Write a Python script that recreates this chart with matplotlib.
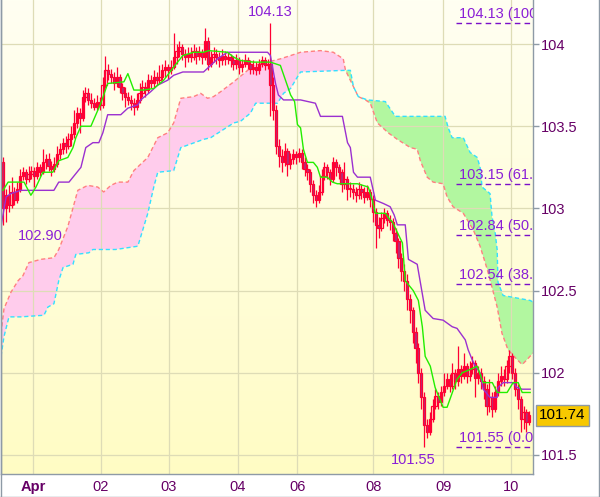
import numpy as np
import matplotlib.pyplot as plt
from matplotlib.patches import Rectangle
from matplotlib.lines import Line2D
import matplotlib.transforms as mtransforms

# hourly candles, open of each bar = previous close
first_open = 103.28
close = [103.00,
         103.08, 103.02, 103.10, 103.05, 103.12,
         103.20, 103.22, 103.18, 103.21, 103.23, 103.20,
         103.25, 103.22, 103.28, 103.30, 103.26, 103.24, 103.27,
         103.33, 103.36, 103.40, 103.38, 103.42,
         103.45, 103.52, 103.58, 103.55,
         103.68, 103.70, 103.66, 103.64, 103.62, 103.65, 103.63,
         103.75, 103.84, 103.82, 103.80,
         103.76, 103.80, 103.74, 103.70, 103.68, 103.66, 103.64, 103.62, 103.66,
         103.70, 103.74, 103.72,
         103.78, 103.76, 103.80, 103.78,
         103.80, 103.84, 103.86, 103.84, 103.86,
         103.92, 103.96, 103.98, 103.94, 103.92,
         103.94, 103.92, 103.96, 103.93, 103.95, 103.92, 104.02,
         103.88,
         103.92, 103.94, 103.92, 103.90, 103.93, 103.91, 103.92,
         103.90, 103.88, 103.90, 103.86, 103.88, 103.90, 103.88,
         103.85, 103.86, 103.84, 103.88, 103.90, 103.87, 103.88,
         103.75, 103.60, 103.38,
         103.32, 103.28, 103.35, 103.27,
         103.30, 103.33, 103.31,
         103.34, 103.28, 103.24, 103.22,
         103.15, 103.08, 103.05, 103.10,
         103.20, 103.25, 103.22, 103.18,
         103.28, 103.25, 103.22,
         103.15, 103.18, 103.12,
         103.12, 103.10, 103.08, 103.12, 103.10, 103.07, 103.10, 103.06,
         102.98, 102.90, 102.88,
         102.94, 102.97, 102.93,
         102.92, 102.85, 102.80, 102.70, 102.62, 102.56,
         102.45, 102.38, 102.25, 102.15,
         102.00, 101.85, 101.68, 101.64,
         101.72, 101.80, 101.86, 101.82, 101.88,
         101.92, 101.96, 101.92, 102.00, 101.95, 102.02, 101.98,
         102.04, 101.98, 102.02, 102.06, 101.97, 102.00, 101.95,
         101.90, 101.80, 101.85, 101.78, 101.88,
         101.95, 101.98, 101.96, 102.04, 102.10, 102.00,
         101.90, 101.84, 101.72, 101.76, 101.70, 101.74]

high = [103.31, 103.12, 103.14, 103.19, 103.13, 103.16, 103.24, 103.25, 103.24, 103.26,
        103.26, 103.25, 103.28, 103.27, 103.36, 103.33, 103.34, 103.29, 103.31, 103.38,
        103.40, 103.43, 103.44, 103.46, 103.50, 103.60, 103.62, 103.61, 103.72, 103.74,
        103.73, 103.70, 103.67, 103.69, 103.68, 103.80, 103.93, 103.88, 103.85, 103.83,
        103.86, 103.82, 103.76, 103.74, 103.71, 103.69, 103.67, 103.70, 103.76, 103.78,
        103.77, 103.82, 103.81, 103.84, 103.83, 103.87, 103.88, 103.90, 103.88, 103.90,
        104.07, 104.00, 104.02, 104.00, 103.97, 103.98, 103.98, 104.00, 103.98, 103.99,
        103.97, 104.10, 104.04, 103.96, 103.98, 103.97, 103.95, 103.97, 103.96, 103.95,
        103.94, 103.93, 103.94, 103.92, 103.91, 103.94, 103.92, 103.90, 103.90, 103.89,
        103.91, 103.93, 103.92, 103.91, 104.13, 103.80, 103.63, 103.42, 103.36, 103.40,
        103.37, 103.34, 103.36, 103.35, 103.37, 103.36, 103.31, 103.27, 103.24, 103.17,
        103.11, 103.14, 103.24, 103.28, 103.27, 103.24, 103.31, 103.30, 103.27, 103.24,
        103.28, 103.20, 103.16, 103.15, 103.13, 103.16, 103.15, 103.13, 103.14, 103.12,
        103.08, 103.00, 102.95, 102.98, 103.00, 102.99, 102.96, 102.94, 102.88, 102.82,
        102.73, 102.66, 102.60, 102.48, 102.40, 102.28, 102.18, 102.03, 101.88, 101.72,
        101.76, 101.84, 101.90, 101.88, 101.92, 102.00, 102.00, 101.99, 102.06, 102.02,
        102.16, 102.05, 102.12, 102.06, 102.07, 102.10, 102.08, 102.04, 102.03, 101.98,
        101.93, 101.96, 101.88, 101.92, 102.00, 102.04, 102.02, 102.08, 102.14, 102.12,
        102.03, 101.93, 101.86, 101.80, 101.78, 101.77]

low = [102.90, 102.92, 102.98, 103.00, 103.02, 103.03, 103.10, 103.17, 103.15, 103.16,
       103.18, 103.13, 103.18, 103.20, 103.21, 103.24, 103.23, 103.20, 103.22, 103.25,
       103.30, 103.33, 103.34, 103.36, 103.38, 103.43, 103.49, 103.46, 103.53, 103.65,
       103.63, 103.61, 103.60, 103.60, 103.60, 103.61, 103.73, 103.78, 103.76, 103.72,
       103.74, 103.70, 103.66, 103.62, 103.63, 103.60, 103.57, 103.60, 103.64, 103.68,
       103.68, 103.70, 103.73, 103.74, 103.75, 103.76, 103.78, 103.80, 103.79, 103.82,
       103.85, 103.88, 103.92, 103.90, 103.86, 103.89, 103.89, 103.90, 103.88, 103.90,
       103.88, 103.90, 103.84, 103.86, 103.89, 103.88, 103.86, 103.87, 103.87, 103.88,
       103.86, 103.84, 103.85, 103.82, 103.83, 103.86, 103.85, 103.82, 103.82, 103.81,
       103.82, 103.86, 103.84, 103.85, 103.56, 103.54, 103.33, 103.25, 103.22, 103.26,
       103.20, 103.24, 103.27, 103.27, 103.28, 103.24, 103.20, 103.17, 103.10, 103.03,
       103.01, 103.03, 103.08, 103.17, 103.18, 103.14, 103.16, 103.20, 103.18, 103.10,
       103.12, 103.05, 103.07, 103.06, 103.04, 103.06, 103.06, 103.03, 103.05, 103.01,
       102.92, 102.76, 102.82, 102.86, 102.91, 102.89, 102.87, 102.80, 102.73, 102.64,
       102.56, 102.50, 102.38, 102.30, 102.18, 102.06, 101.94, 101.78, 101.55, 101.60,
       101.62, 101.70, 101.78, 101.78, 101.80, 101.86, 101.90, 101.88, 101.90, 101.90,
       101.92, 101.94, 101.96, 101.94, 101.95, 101.99, 101.85, 101.93, 101.90, 101.84,
       101.74, 101.76, 101.73, 101.76, 101.86, 101.92, 101.92, 101.94, 102.00, 101.96,
       101.86, 101.78, 101.64, 101.66, 101.64, 101.68]

# ichimoku lines as (bar index, price) vertices
tenkan_t = [0.0, 1.8, 7.4, 9.8, 11.6, 14.0, 17.5, 19.6, 22.8, 24.6, 25.6, 27.4, 30.9, 34.4,
            36.8, 42.5, 43.9, 46.0, 49.5, 53.0, 56.5, 60.0, 63.2, 67.0, 70.5, 72.3, 78.9,
            81.1, 83.5, 88.1, 94.0, 97.5, 101.1, 102.5, 103.5, 104.6, 105.6, 107.0, 109.1,
            110.5, 111.6, 114.0, 115.8, 117.5, 124.6, 128.4, 129.8, 130.9, 134.4, 136.1,
            136.8, 140.4, 141.4, 144.2, 146.0, 147.4, 148.4, 150.2, 151.9, 154.7, 156.1,
            159.6, 161.4, 164.2, 166.7, 168.8, 172.0, 173.7, 177.2, 179.3, 181.1, 182.5, 185.3]
tenkan_v = [103.11, 103.16, 103.16, 103.08, 103.13, 103.22, 103.22, 103.29, 103.31, 103.37,
            103.43, 103.50, 103.50, 103.64, 103.76, 103.77, 103.82, 103.72, 103.72, 103.73,
            103.78, 103.86, 103.93, 103.95, 103.95, 103.96, 103.95, 103.92, 103.90, 103.89,
            103.89, 103.87, 103.69, 103.65, 103.51, 103.49, 103.36, 103.28, 103.28, 103.25,
            103.19, 103.19, 103.16, 103.15, 103.15, 103.13, 103.05, 102.97, 102.97, 102.93,
            102.92, 102.79, 102.56, 102.50, 102.44, 102.28, 102.10, 102.04, 101.91, 101.79,
            101.79, 101.96, 102.00, 102.02, 102.04, 101.94, 101.94, 101.88, 101.88, 101.94,
            101.94, 101.88, 101.88]

kijun_t = [-0.7, 1.1, 2.8, 6.3, 17.9, 19.6, 23.2, 27.4, 29.1, 31.6, 33.7, 35.1, 36.8, 41.4,
           43.9, 47.4, 48.4, 51.9, 54.4, 57.9, 60.0, 63.2, 70.5, 73.0, 75.4, 78.9, 83.5, 93.0,
           94.0, 95.8, 96.8, 98.6, 104.6, 109.8, 111.6, 119.3, 121.1, 122.1, 123.2, 124.6,
           129.1, 130.9, 133.7, 136.1, 137.5, 138.6, 141.4, 142.5, 145.6, 148.4, 151.2,
           154.7, 157.9, 159.6, 162.5, 163.5, 164.9, 166.0, 167.7, 168.8, 171.2, 173.7,
           174.0, 175.8, 179.3, 180.7, 182.5, 185.3]
kijun_v = [102.89, 103.07, 103.09, 103.11, 103.11, 103.16, 103.16, 103.25, 103.37, 103.40,
           103.40, 103.46, 103.57, 103.57, 103.61, 103.63, 103.66, 103.71, 103.75, 103.78,
           103.81, 103.83, 103.83, 103.87, 103.91, 103.95, 103.95, 103.95, 103.93, 103.76,
           103.69, 103.66, 103.66, 103.64, 103.56, 103.56, 103.40, 103.37, 103.22, 103.19,
           103.19, 103.05, 103.03, 103.01, 102.96, 102.90, 102.90, 102.69, 102.66, 102.38,
           102.33, 102.32, 102.28, 102.27, 102.20, 102.14, 102.08, 102.04, 102.00, 101.90,
           101.85, 101.85, 101.91, 101.94, 101.94, 101.91, 101.90, 101.90]

# cloud: senkou span A / B, split where they cross
span_a_up_t = [-0.7, 0.35, 2.8, 5.3, 7.0, 9.1, 13.3, 17.9, 19.6, 22.8, 26.3, 29.8, 33.3, 35.4,
               37.9, 40.4, 43.9, 46.0, 50.9, 54.4, 57.9, 60.0, 62.5, 67.0, 69.5, 71.9, 74.0,
               76.5, 81.1, 84.6, 88.1, 93.0, 97.5, 101.1, 104.6, 111.6, 116.1, 119.6, 120.4]
span_a_up_v = [102.24, 102.39, 102.49, 102.56, 102.59, 102.67, 102.69, 102.70, 102.75, 102.89,
               103.11, 103.14, 103.13, 103.10, 103.14, 103.16, 103.16, 103.23, 103.31, 103.43,
               103.46, 103.52, 103.67, 103.68, 103.70, 103.67, 103.68, 103.71, 103.77, 103.82,
               103.87, 103.89, 103.91, 103.93, 103.95, 103.96, 103.95, 103.91, 103.84]
span_b_up_t = [-0.7, 0.35, 2.1, 6.3, 14.4, 15.8, 17.9, 19.6, 21.1, 24.6, 25.6, 30.2, 31.6,
               39.6, 47.4, 50.9, 53.0, 54.4, 60.0, 62.5, 70.5, 73.0, 81.1, 83.5, 87.0, 88.8,
               96.5, 98.6, 101.1, 103.5, 104.6, 120.4]
span_b_up_v = [102.10, 102.22, 102.34, 102.34, 102.35, 102.40, 102.42, 102.56, 102.64, 102.66,
               102.72, 102.73, 102.75, 102.75, 102.77, 102.97, 103.13, 103.22, 103.23, 103.37,
               103.42, 103.43, 103.52, 103.53, 103.58, 103.64, 103.64, 103.70, 103.73, 103.80,
               103.83, 103.84]
span_a_dn_t = [120.4, 123.2, 124.9, 127.4, 129.1, 131.6, 135.4, 138.6, 143.2, 145.6, 146.7,
               149.1, 151.2, 154.7, 156.1, 158.2, 161.8, 165.3, 167.7, 170.2, 171.9, 173.7,
               175.4, 177.5, 180.7, 182.5, 184.2, 186.3]
span_a_dn_v = [103.84, 103.74, 103.68, 103.66, 103.64, 103.52, 103.46, 103.42, 103.37, 103.36,
               103.29, 103.19, 103.16, 103.15, 103.07, 103.01, 102.97, 102.87, 102.77, 102.63,
               102.52, 102.40, 102.24, 102.14, 102.08, 102.05, 102.08, 102.12]
span_b_dn_t = [120.4, 122.1, 123.2, 124.9, 128.1, 134.4, 137.9, 155.4, 156.5, 157.9, 161.8,
               164.2, 166.7, 167.7, 168.4, 171.2, 171.9, 173.0, 173.7, 174.0, 175.8, 185.3, 186.3]
span_b_dn_v = [103.84, 103.84, 103.74, 103.68, 103.66, 103.65, 103.56, 103.56, 103.49, 103.43,
               103.43, 103.34, 103.31, 103.25, 103.13, 103.09, 102.95, 102.85, 102.75, 102.55,
               102.47, 102.44, 102.43]

# fibonacci retracement levels
fib_levels = [104.13, 103.15, 102.84, 102.54, 101.55]
fib_names = ['100.0', '61.8', '50.0', '38.2', '0.0']

day_ticks = [10.5, 34.4, 58.2, 82.5, 103.5, 130.2, 154.7, 178.6]
day_labels = ['Apr', '02', '03', '04', '06', '08', '09', '10']
price_ticks = [101.5, 102.0, 102.5, 103.0, 103.5, 104.0]
price_labels = ['101.5', '102', '102.5', '103', '103.5', '104']

last_price = 101.74

txt_purple = '#660066'
lbl_purple = '#8a1fd6'
candle_red = '#ff0033'
plt.rcParams['font.family'] = ['Liberation Sans', 'DejaVu Sans']

fig = plt.figure(figsize=(6.0, 4.97), dpi=100)
ax = fig.add_axes([1 / 600, 23 / 497, 532 / 600, 474 / 497])

x0, x1 = -0.7, 186.3
y0, y1 = 101.384, 104.268
ax.set_xlim(x0, x1)
ax.set_ylim(y0, y1)

# pale yellow vertical gradient
grad = np.linspace(0, 1, 256)[:, None]
top = np.array([255, 255, 242]) / 255
bot = np.array([255, 252, 196]) / 255
img = top[None, None, :] * (1 - grad[:, :, None]) + bot[None, None, :] * grad[:, :, None]
ax.imshow(img, extent=[x0, x1, y0, y1], aspect='auto', origin='upper', zorder=0)

ax.grid(True, color='#dedcb6', lw=0.9, zorder=1)

# cloud
ax.fill(span_a_up_t + span_b_up_t[::-1], span_a_up_v + span_b_up_v[::-1],
        color='#ffccec', lw=0, zorder=1.5)
ax.fill(span_b_dn_t + span_a_dn_t[::-1], span_b_dn_v + span_a_dn_v[::-1],
        color='#b2f7a0', lw=0, zorder=1.5)
ax.plot(span_a_up_t + span_a_dn_t, span_a_up_v + span_a_dn_v, color='#ff8080',
        lw=1.0, ls=(0, (3, 2)), zorder=2)
ax.plot(span_b_up_t + span_b_dn_t, span_b_up_v + span_b_dn_v, color='#33e0ff',
        lw=1.0, ls=(0, (3, 2)), zorder=2)

# candles
opens = [first_open] + close[:-1]
for i, (o, h, l, c) in enumerate(zip(opens, high, low, close)):
    ax.plot([i, i], [l, h], color=candle_red, lw=0.9, zorder=3, solid_capstyle='butt')
    fc = 'none' if c >= o else '#b0307a'
    ax.add_patch(Rectangle((i - 0.4, min(o, c)), 0.8, max(abs(c - o), 0.004),
                           facecolor=fc, edgecolor=candle_red, lw=0.9, zorder=3))

ax.plot(kijun_t, kijun_v, color='#9b30d0', lw=1.0, zorder=4)
ax.plot(tenkan_t, tenkan_v, color='#22ee00', lw=1.0, zorder=4)

# fibonacci lines
for lev, name in zip(fib_levels, fib_names):
    ax.plot([159.3, x1], [lev, lev], color='#7a10c8', lw=1.0, ls=(0, (4, 3)), zorder=5)
    ax.text(160.4, lev + 0.012, f'{lev:.2f} ({name})', color=lbl_purple, fontsize=10.5,
            va='bottom', ha='left', zorder=5, clip_on=True)

# high / low labels
ax.annotate('104.13', xy=(94, 104.13), xytext=(0, 3), textcoords='offset points',
            ha='center', va='bottom', color=lbl_purple, fontsize=10.5, annotation_clip=False)
ax.annotate('102.90', xy=(0, 102.90), xytext=(27, -8), textcoords='offset points',
            ha='center', va='center', color=lbl_purple, fontsize=10.5)
ax.annotate('101.55', xy=(148, 101.55), xytext=(-8, -9.5), textcoords='offset points',
            ha='center', va='center', color=lbl_purple, fontsize=10.5)

# axes styling
for side in ['left', 'right', 'bottom']:
    ax.spines[side].set_color('#8e9aa6')
    ax.spines[side].set_linewidth(1.0)
ax.spines['top'].set_visible(False)

ax.yaxis.tick_right()
ax.set_yticks(price_ticks)
ax.set_yticklabels(price_labels)
ax.tick_params(axis='y', length=4, width=1, color='#8e9aa6', labelcolor=txt_purple,
               labelsize=10.5, pad=2)
ax.set_xticks(day_ticks)
ax.set_xticklabels(day_labels)
ax.tick_params(axis='x', length=0, labelcolor=txt_purple, labelsize=10.5, pad=4)
ax.get_xticklabels()[0].set_fontweight('bold')

# current price tag
trans = mtransforms.blended_transform_factory(ax.transAxes, ax.transData)
ax.text(1.0 + 6 / 532, last_price, f'{last_price:.2f}', transform=trans, ha='left',
        va='center', fontsize=11, color='black', clip_on=False,
        bbox=dict(boxstyle='square,pad=0.22', facecolor='#f7c800', edgecolor='#8e9aa6', lw=1))

# figure border
for xs, ys in [([0.5 / 600, 0.5 / 600], [0, 1]), ([598.5 / 600, 598.5 / 600], [0, 1]),
               ([0, 599 / 600], [0.5 / 497, 0.5 / 497])]:
    fig.add_artist(Line2D(xs, ys, color='#8e9aa6', lw=1.0, transform=fig.transFigure))

fig.savefig('out.png', dpi=100)
